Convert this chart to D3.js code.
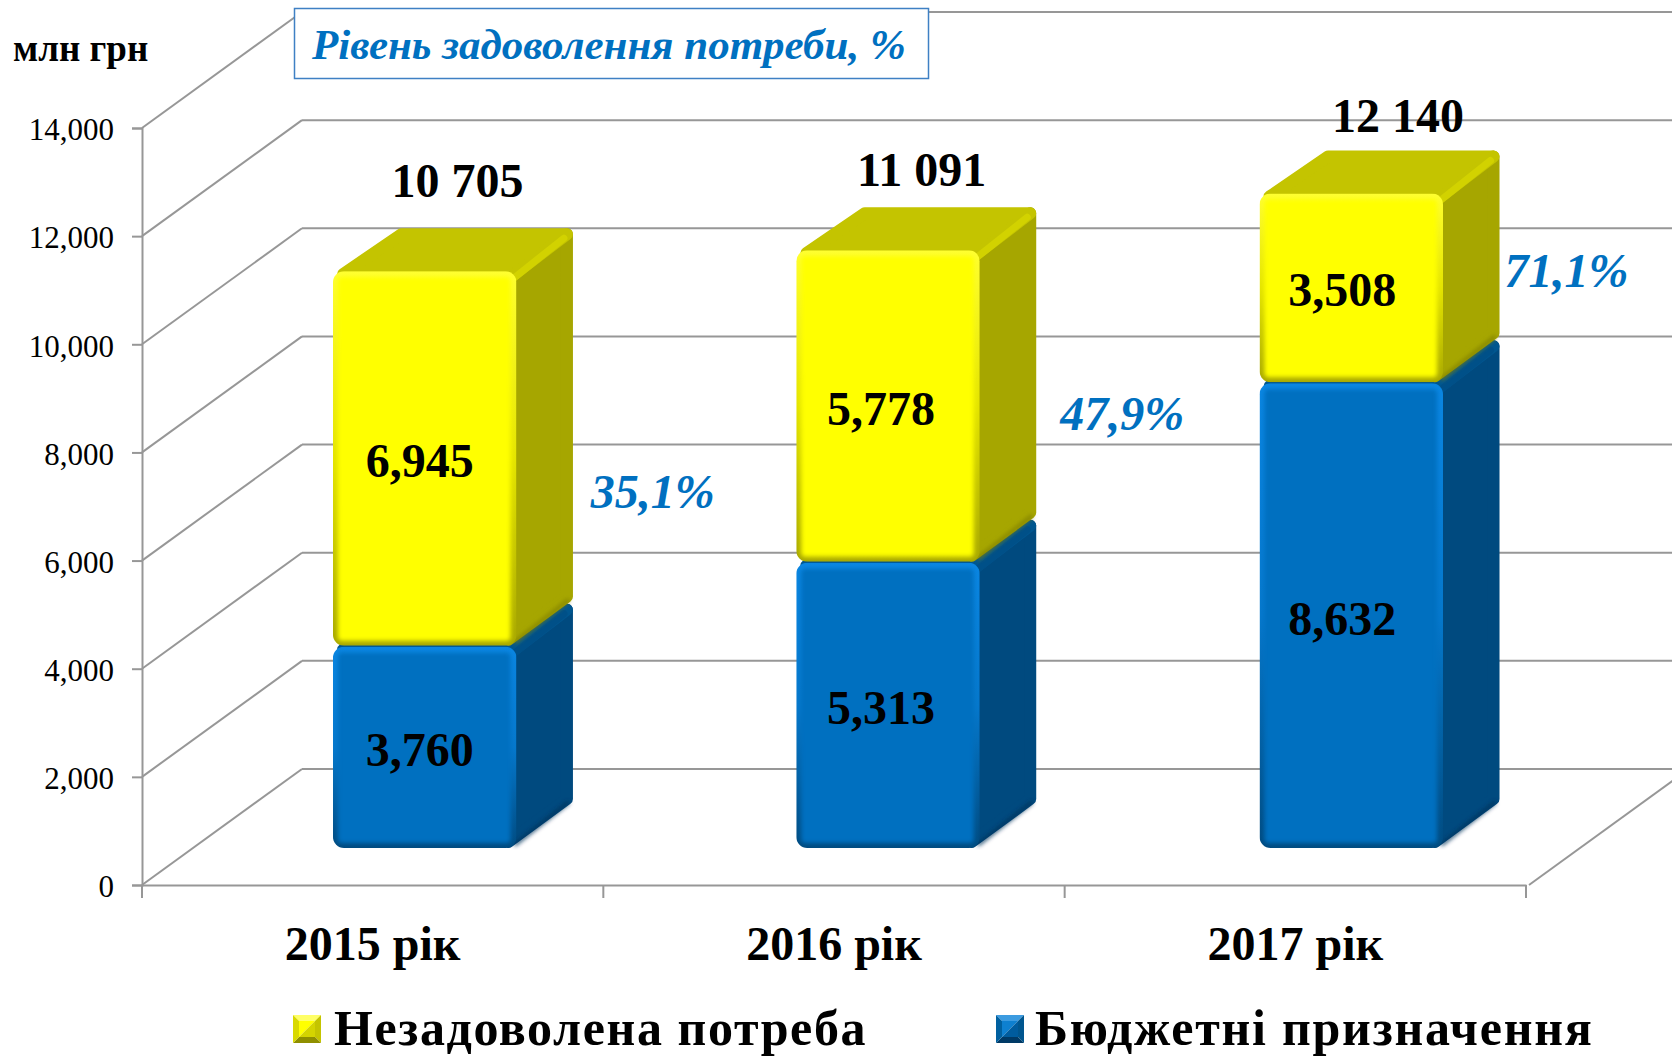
<!DOCTYPE html>
<html>
<head>
<meta charset="utf-8">
<script src="https://cdn.jsdelivr.net/npm/d3@7"></script>
<style>
  html, body { margin: 0; padding: 0; background: #fff; overflow: hidden; }
  svg { display: block; }
  text { font-family: "Liberation Serif", serif; }
</style>
</head>
<body>
<div id="container"></div>
<script>
const categories = ["2015 рік", "2016 рік", "2017 рік"];
const budget = [3760, 5313, 8632];
const unmet = [6945, 5778, 3508];
const totals = [10705, 11091, 12140];
const shares = [35.1, 47.9, 71.1];
const yTicks = [0, 2000, 4000, 6000, 8000, 10000, 12000, 14000];
const seriesNames = ["Незадоволена потреба", "Бюджетні призначення"];
const unitLabel = "млн грн";
const titleLabel = "Рівень задоволення потреби, %";

const width = 1672;
const height = 1056;

// wall depth of the 3d box and of each column
const wall = { dx: 160, dy: 116 };
const depth = { dx: 56.5, dy: 43 };
const lift = 37; // columns stand this far above the front floor edge
const grey = "#979797";
const blueText = "#0070C0";

const xScale = d3.scaleBand(categories, [142, 1526]);
const barScale = d3.scaleBand(categories, [194, 1582]).paddingInner(0.604).paddingOuter(0.3);
const yScale = d3.scaleLinear([0, 14000], [885, 128]);

const svg = d3.select("#container")
  .append("svg")
  .attr("width", width)
  .attr("height", height)
  .attr("viewBox", [0, 0, width, height]);

const defs = svg.append("defs");
defs.append("filter").attr("id", "soft")
  .attr("x", "-10%").attr("y", "-10%").attr("width", "120%").attr("height", "120%")
  .append("feGaussianBlur").attr("stdDeviation", 2);

const palettes = {
  blue: { face: "#0070C0", side: "#004A7F", top: "#00568F", ridge: "#005088", low: "#00335A",
    edge: ["#0A86E2", "#0578CC", "#004B80"] },
  yellow: { face: "#FFFF00", side: "#A6A600", top: "#C4C400", ridge: "#D2D200", low: "#7F7F00",
    edge: ["#FFFF30", "#E4E400", "#A8A800"] }
};
Object.entries(palettes).forEach(([name, p]) => {
  defs.append("linearGradient").attr("id", "edge-" + name)
    .attr("x1", 0).attr("y1", 0).attr("x2", 0).attr("y2", 1)
    .selectAll("stop").data(p.edge).join("stop")
    .attr("offset", (d, i) => i / 2)
    .attr("stop-color", d => d);
});

// walls
const grid = svg.append("g").attr("fill", "none").attr("stroke", grey).attr("stroke-width", 2);
grid.selectAll(".back").data(yTicks).join("line")
  .attr("class", "back")
  .attr("x1", xScale.range()[0] + wall.dx)
  .attr("x2", width)
  .attr("y1", d => yScale(d) - wall.dy)
  .attr("y2", d => yScale(d) - wall.dy);
grid.selectAll(".slant").data(yTicks).join("line")
  .attr("class", "slant")
  .attr("x1", xScale.range()[0])
  .attr("x2", xScale.range()[0] + wall.dx)
  .attr("y1", d => yScale(d))
  .attr("y2", d => yScale(d) - wall.dy);
grid.append("line")
  .attr("x1", xScale.range()[1] + 3)
  .attr("x2", xScale.range()[1] + 3 + wall.dx)
  .attr("y1", yScale(0))
  .attr("y2", yScale(0) - wall.dy);

// axes
const yAxis = d3.axisLeft(yScale).tickValues(yTicks).tickSize(10).tickPadding(18).tickFormat(d3.format(","));
svg.append("g")
  .attr("transform", `translate(${xScale.range()[0]},0)`)
  .call(yAxis)
  .call(g => g.select(".domain").attr("stroke", grey).attr("stroke-width", 2))
  .call(g => g.selectAll(".tick line").attr("stroke", grey).attr("stroke-width", 2))
  .call(g => g.selectAll("text").attr("font-size", 31).attr("fill", "#000").attr("dy", "0.38em")
    .style("font-family", '"Liberation Serif", serif'));

const xAxis = d3.axisBottom(xScale).tickSize(0).tickPadding(41);
svg.append("g")
  .attr("transform", `translate(0,${yScale(0)})`)
  .call(xAxis)
  .call(g => g.select(".domain").attr("stroke", grey).attr("stroke-width", 2))
  .call(g => g.selectAll("text").attr("font-size", 48).attr("font-weight", "bold").attr("fill", "#000")
    .style("font-family", '"Liberation Serif", serif'));
svg.append("g").selectAll("line")
  .data([...categories.map(c => xScale(c)), xScale.range()[1]])
  .join("line")
  .attr("x1", d => d).attr("x2", d => d)
  .attr("y1", yScale(0)).attr("y2", yScale(0) + 13)
  .attr("stroke", grey).attr("stroke-width", 2);

// one column segment: side, top, then the bevelled front
function drawSegment(g, id, x, w, y0, y1, p, paletteName) {
  const x1 = x + w;
  const yT = y1 + 2;
  const r = 6;
  g.append("polygon")
    .attr("points", [[x1 - 8, yT + r], [x1 + depth.dx - r, yT - depth.dy + r], [x1 + depth.dx - r, y0 - depth.dy - r], [x1 - 8, y0 - r]].join(" "))
    .attr("fill", p.side).attr("stroke", p.side).attr("stroke-width", r * 2).attr("stroke-linejoin", "round");
  g.append("line")
    .attr("x1", x1 - 2).attr("y1", y0 - 3)
    .attr("x2", x1 + depth.dx - 4).attr("y2", y0 - depth.dy - 3)
    .attr("stroke", p.low).attr("stroke-width", 3).attr("filter", "url(#soft)");
  g.append("polygon")
    .attr("points", [[x + 10, yT + 3], [x + depth.dx + 12, yT - depth.dy + r], [x1 + depth.dx - r, yT - depth.dy + r], [x1 - 2, yT + 3]].join(" "))
    .attr("fill", p.top).attr("stroke", p.top).attr("stroke-width", r * 2).attr("stroke-linejoin", "round");
  g.append("line")
    .attr("x1", x1 - 4).attr("y1", yT + 8)
    .attr("x2", x1 + depth.dx - 9).attr("y2", yT - depth.dy + 10)
    .attr("stroke", p.ridge).attr("stroke-width", 7).attr("stroke-linecap", "round");
  g.append("clipPath").attr("id", id)
    .append("rect").attr("x", x).attr("y", yT).attr("width", w).attr("height", y0 - yT).attr("rx", 11);
  const front = g.append("g").attr("clip-path", `url(#${id})`);
  front.append("rect")
    .attr("x", x).attr("y", yT).attr("width", w).attr("height", y0 - yT)
    .attr("fill", `url(#edge-${paletteName})`);
  front.append("rect")
    .attr("x", x + 5).attr("y", yT + 6).attr("width", w - 11).attr("height", y0 - yT - 11)
    .attr("rx", 4).attr("fill", p.face).attr("filter", "url(#soft)");
}

const columns = svg.append("g");
categories.forEach((c, i) => {
  const x = barScale(c);
  const w = barScale.bandwidth();
  const g = columns.append("g");
  drawSegment(g, "b" + i, x, w, yScale(0) - lift, yScale(budget[i]) - lift, palettes.blue, "blue");
  drawSegment(g, "y" + i, x, w, yScale(budget[i]) - lift + 1, yScale(budget[i] + unmet[i]) - lift, palettes.yellow, "yellow");
});

// labels inside the columns
const labelFormat = d3.format(",");
const insideNudge = [-5, -7, -9];
const inside = svg.append("g")
  .attr("text-anchor", "middle").attr("font-size", 48).attr("font-weight", "bold").attr("fill", "#000");
categories.forEach((c, i) => {
  const cx = barScale(c) + barScale.bandwidth() / 2 + insideNudge[i];
  inside.append("text").attr("x", cx)
    .attr("y", (yScale(0) + yScale(budget[i])) / 2 - lift + 20).text(labelFormat(budget[i]));
  inside.append("text").attr("x", cx)
    .attr("y", (yScale(budget[i]) + yScale(budget[i] + unmet[i])) / 2 - lift + 20).text(labelFormat(unmet[i]));
});

// hand placed call-outs, nudged from their columns as in the source slide
const totalNudge = [[5, -29], [6, -19], [19, -17]];
const shareNudge = [[-19, 239], [-13, 182], [-32, 95]];
const totalFormat = d3.format(",");
svg.append("g")
  .attr("text-anchor", "middle").attr("font-size", 48).attr("font-weight", "bold").attr("fill", "#000")
  .selectAll("text").data(categories).join("text")
  .attr("x", (c, i) => barScale(c) + barScale.bandwidth() / 2 + 27.7 + totalNudge[i][0])
  .attr("y", (c, i) => yScale(totals[i]) - lift - depth.dy + totalNudge[i][1])
  .text((c, i) => totalFormat(totals[i]).replace(",", " "));
svg.append("g")
  .attr("text-anchor", "middle").attr("font-size", 48).attr("font-weight", "bold")
  .attr("font-style", "italic").attr("fill", blueText)
  .selectAll("text").data(categories).join("text")
  .attr("x", (c, i) => barScale(c) + barScale.bandwidth() + 155.4 + shareNudge[i][0])
  .attr("y", (c, i) => yScale(totals[i]) - lift + shareNudge[i][1])
  .text((c, i) => String(shares[i]).replace(".", ",") + "%");

// unit and title box
svg.append("text")
  .attr("x", 13).attr("y", 61)
  .attr("font-size", 37).attr("font-weight", "bold").attr("fill", "#000")
  .text(unitLabel);
svg.append("rect")
  .attr("x", 294.5).attr("y", 8.5).attr("width", 634).attr("height", 70)
  .attr("fill", "#fff").attr("stroke", "#3F80C4").attr("stroke-width", 1.5);
svg.append("text")
  .attr("x", 312).attr("y", 59)
  .attr("font-size", 43).attr("font-weight", "bold").attr("font-style", "italic")
  .attr("fill", blueText)
  .text(titleLabel);

// legend
function swatch(g, x, y, s, colors) {
  const b = 6;
  const faces = [
    [[x, y], [x + s, y], [x + s - b, y + b], [x + b, y + b]],
    [[x + s, y], [x + s, y + s], [x + s - b, y + s - b], [x + s - b, y + b]],
    [[x + s, y + s], [x, y + s], [x + b, y + s - b], [x + s - b, y + s - b]],
    [[x, y + s], [x, y], [x + b, y + b], [x + b, y + s - b]],
    [[x + b, y + b], [x + s - b, y + b], [x + b, y + s - b]],
    [[x + s - b, y + b], [x + s - b, y + s - b], [x + b, y + s - b]]
  ];
  g.selectAll("polygon").data(faces).join("polygon")
    .attr("points", d => d.join(" "))
    .attr("fill", (d, i) => colors[i]);
}
const legendItems = [
  { name: seriesNames[0], sx: 293, tx: 334, spacing: 1.6, colors: ["#FFFF66", "#C4C400", "#8F8F00", "#D9D900", "#FFFF00", "#D4D400"] },
  { name: seriesNames[1], sx: 996, tx: 1035, spacing: 1.75, colors: ["#3C9BE0", "#00568F", "#003A66", "#0060A0", "#0E80D0", "#005C9E"] }
];
legendItems.forEach(d => {
  swatch(svg.append("g"), d.sx, 1015, 28, d.colors);
  svg.append("text")
    .attr("x", d.tx).attr("y", 1045)
    .attr("font-size", 50).attr("font-weight", "bold").attr("letter-spacing", d.spacing).attr("fill", "#000")
    .text(d.name);
});
</script>
</body>
</html>
